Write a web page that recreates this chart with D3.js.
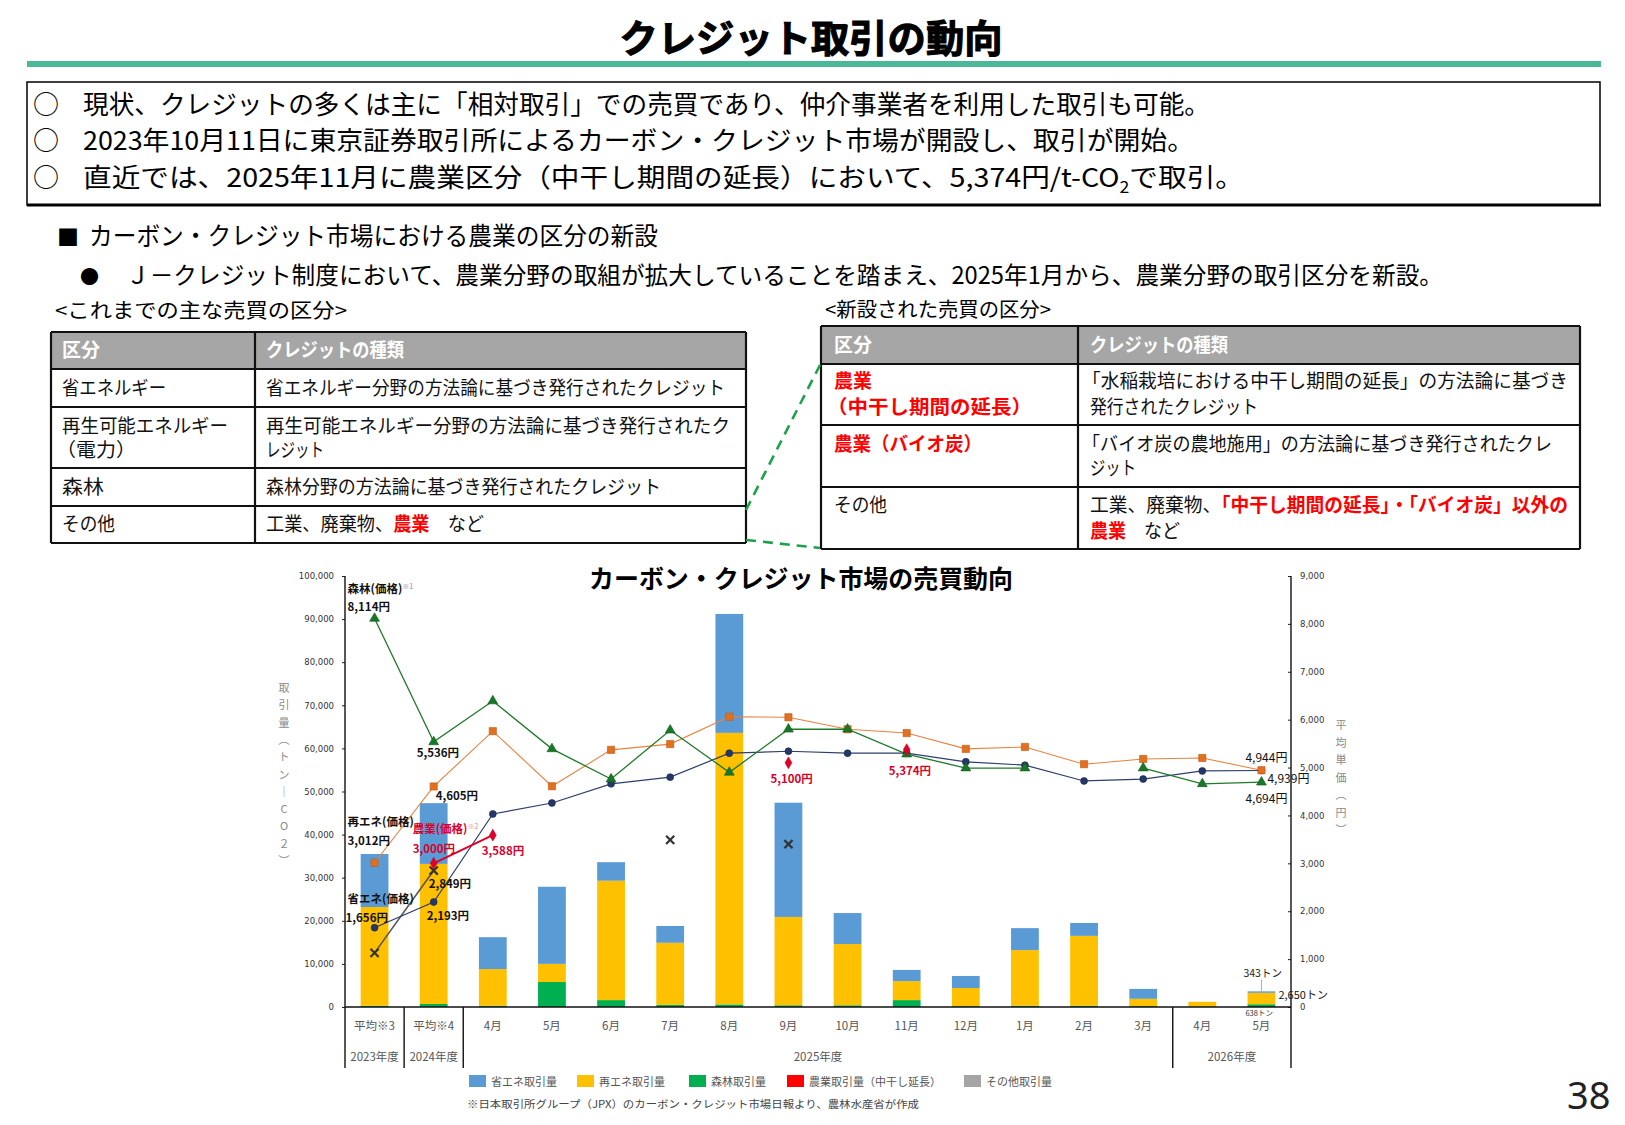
<!DOCTYPE html>
<html>
<head>
<meta charset="utf-8">
<style>
body { margin: 0; background: #fff; }
svg { display: block; font-family: "Noto Sans CJK JP", "Noto Sans", sans-serif; }
.tick text { font-family: "DejaVu Sans", sans-serif; font-size: 8.5px; fill: #333; }
.tick line { stroke: #222; }
</style>
</head>
<body>
<script src="https://d3js.org/d3.v7.min.js"></script>
<script>
// ---- chart data ----
var categories = ["平均※3", "平均※4", "4月", "5月", "6月", "7月", "8月", "9月", "10月", "11月", "12月", "1月", "2月", "3月", "4月", "5月"];
var fiscalYears = ["2023年度", "2024年度", "2025年度", "2026年度"];
var fiscalStart = [0, 1, 2, 14];
var fiscalEnd = [0, 1, 13, 15];

// 取引量 (t-CO2)
var volShoene  = [12300, 14100, 7400, 17900, 4300, 3900, 27600, 26500, 7200, 2600, 2800, 5100, 3000, 2300, 0, 343];
var volSaiene  = [22900, 32500, 8500, 4200, 27700, 14400, 63000, 20500, 14200, 4400, 4200, 12900, 16200, 1700, 1100, 2650];
var volShinrin = [300, 700, 300, 5800, 1600, 500, 600, 400, 400, 1600, 200, 300, 300, 200, 100, 638];
var volNougyou = [0, 0, 0, 0, 0, 0, 0, 0, 0, 0, 0, 0, 0, 0, 0, 0];
var volSonota  = [0, 0, 0, 0, 0, 0, 0, 0, 0, 0, 0, 0, 0, 0, 0, 0];

// 平均単価 (円)
var priceSaiene  = [3012, 4605, 5760, 4610, 5370, 5490, 6060, 6050, 5800, 5720, 5390, 5430, 5070, 5180, 5200, 4944];
var priceShinrin = [8114, 5536, 6390, 5390, 4760, 5780, 4900, 5800, 5800, 5280, 4990, 4990, null, 4990, 4660, 4694];
var priceShoene  = [1656, 2193, 4030, 4260, 4660, 4800, 5300, 5340, 5300, 5300, 5120, 5050, 4720, 4760, 4930, 4939];
var priceNougyou = [null, 3000, 3588, null, null, null, null, 5100, null, 5374, null, null, null, null, null, null];
var priceSonota  = [1130, 2849, null, null, null, 3490, null, 3400, null, null, null, null, null, null, null, null];

var leftTicks = [0, 10000, 20000, 30000, 40000, 50000, 60000, 70000, 80000, 90000, 100000];
var rightTicks = [0, 1000, 2000, 3000, 4000, 5000, 6000, 7000, 8000, 9000];
var legendNames = ["省エネ取引量", "再エネ取引量", "森林取引量", "農業取引量（中干し延長）", "その他取引量"];

var W = 1625, H = 1125;
var svg = d3.select("body").append("svg").attr("width", W).attr("height", H);
svg.append("rect").attr("width", W).attr("height", H).attr("fill", "#fff");

// text helper: {...} parts are red bold
function addText(parent, x, y, markup, o) {
	o = o || {};
	var t = parent.append("text").attr("x", x).attr("y", y)
		.style("font-size", (o.size || 19) + "px")
		.attr("fill", o.fill || "#111");
	if (o.weight) t.style("font-weight", o.weight);
	if (o.anchor) t.attr("text-anchor", o.anchor);
	markup.split(/[{}]/).forEach(function(s, i) {
		if (!s) return;
		var ts = t.append("tspan").text(s);
		if (i % 2) ts.attr("fill", o.red || "#ff0000").style("font-weight", 700);
	});
	if (o.width) t.attr("textLength", o.width).attr("lengthAdjust", "spacingAndGlyphs");
	return t;
}

// ---- header ----
addText(svg, 811, 52, "クレジット取引の動向", {size: 38, weight: 700, anchor: "middle", width: 383, fill: "#000"})
	.attr("stroke", "#000").attr("stroke-width", 1.1);
svg.append("rect").attr("x", 27).attr("y", 61).attr("width", 1574).attr("height", 6).attr("fill", "#4cb89a");

svg.append("rect").attr("x", 27).attr("y", 82).attr("width", 1573).attr("height", 123)
	.attr("fill", "none").attr("stroke", "#000").attr("stroke-width", 1.5);
svg.append("line").attr("x1", 27).attr("x2", 1601).attr("y1", 205).attr("y2", 205)
	.attr("stroke", "#000").attr("stroke-width", 3);

var topY = [114, 150, 187];
topY.forEach(function(y) { addText(svg, 33, y, "○", {size: 26, fill: "#000"}); });
addText(svg, 83, topY[0], "現状、クレジットの多くは主に「相対取引」での売買であり、仲介事業者を利用した取引も可能。", {size: 26, width: 1127, fill: "#000"});
addText(svg, 83, topY[1], "2023年10月11日に東京証券取引所によるカーボン・クレジット市場が開設し、取引が開始。", {size: 26, width: 1111, fill: "#000"});
var l3 = svg.append("text").attr("x", 83).attr("y", topY[2]).style("font-size", "26px").attr("fill", "#000")
	.attr("textLength", 1161).attr("lengthAdjust", "spacingAndGlyphs");
l3.append("tspan").text("直近では、2025年11月に農業区分（中干し期間の延長）において、5,374円/t-CO");
l3.append("tspan").attr("dy", 6).style("font-size", "16px").text("2");
l3.append("tspan").attr("dy", -6).text("で取引。");

addText(svg, 57, 245, "■", {size: 22, fill: "#000"});
addText(svg, 89, 245, "カーボン・クレジット市場における農業の区分の新設", {size: 25, width: 569, fill: "#000"});
addText(svg, 80, 284, "●", {size: 19, fill: "#000"});
addText(svg, 126, 284, "Ｊ－クレジット制度において、農業分野の取組が拡大していることを踏まえ、2025年1月から、農業分野の取引区分を新設。", {size: 24, width: 1317, fill: "#000"});

// ---- tables ----
addText(svg, 55, 318, "<これまでの主な売買の区分>", {size: 20, width: 292, fill: "#000"});
addText(svg, 825, 317, "<新設された売買の区分>", {size: 20, width: 226, fill: "#000"});

function drawTable(x0, x1, x2, ys) {
	var g = svg.append("g");
	g.append("rect").attr("x", x0).attr("y", ys[0]).attr("width", x2 - x0).attr("height", ys[1] - ys[0]).attr("fill", "#a6a6a6");
	ys.forEach(function(y) {
		g.append("line").attr("x1", x0).attr("x2", x2).attr("y1", y).attr("y2", y).attr("stroke", "#111").attr("stroke-width", 2.2);
	});
	[x0, x1, x2].forEach(function(x) {
		g.append("line").attr("x1", x).attr("x2", x).attr("y1", ys[0]).attr("y2", ys[ys.length - 1]).attr("stroke", "#111").attr("stroke-width", 2.2);
	});
	return g;
}
var lt = drawTable(51, 255, 746, [332, 369, 407, 468, 506, 543]);
addText(lt, 62, 357, "区分", {size: 19, weight: 700, fill: "#fff"});
addText(lt, 266, 357, "クレジットの種類", {size: 19, weight: 700, fill: "#fff", width: 138});
addText(lt, 62, 395, "省エネルギー", {width: 104});
addText(lt, 266, 395, "省エネルギー分野の方法論に基づき発行されたクレジット", {width: 459});
addText(lt, 62, 433, "再生可能エネルギー", {width: 166});
addText(lt, 56, 457, "（電力）", {width: 80});
addText(lt, 266, 433, "再生可能エネルギー分野の方法論に基づき発行されたク", {width: 464});
addText(lt, 266, 457, "レジット", {width: 58});
addText(lt, 62, 494, "森林", {width: 42});
addText(lt, 266, 494, "森林分野の方法論に基づき発行されたクレジット", {width: 395});
addText(lt, 62, 531, "その他", {width: 53});
addText(lt, 266, 531, "工業、廃棄物、{農業}　など", {width: 218});

var rt = drawTable(821, 1078, 1580, [326, 364, 425, 487, 549]);
addText(rt, 834, 352, "区分", {size: 19, weight: 700, fill: "#fff"});
addText(rt, 1090, 352, "クレジットの種類", {size: 19, weight: 700, fill: "#fff", width: 138});
addText(rt, 834, 388, "{農業}", {});
addText(rt, 827, 414, "{（中干し期間の延長）}", {width: 205});
addText(rt, 1082, 388, "「水稲栽培における中干し期間の延長」の方法論に基づき", {width: 486});
addText(rt, 1090, 414, "発行されたクレジット", {width: 168});
addText(rt, 834, 451, "{農業（バイオ炭）}", {width: 148});
addText(rt, 1082, 451, "「バイオ炭の農地施用」の方法論に基づき発行されたクレ", {width: 470});
addText(rt, 1090, 475, "ジット", {width: 46});
addText(rt, 834, 512, "その他", {width: 53});
addText(rt, 1090, 512, "工業、廃棄物、{「中干し期間の延長」・「バイオ炭」以外の}", {width: 478});
addText(rt, 1090, 538, "{農業}　など", {width: 90});

// dashed connectors
[[746, 510, 820, 365], [746, 540, 820, 548]].forEach(function(c) {
	svg.append("line").attr("x1", c[0]).attr("y1", c[1]).attr("x2", c[2]).attr("y2", c[3])
		.attr("stroke", "#1fa04a").attr("stroke-width", 2.6).attr("stroke-dasharray", "10,7");
});

// ---- chart ----
var x = d3.scaleBand().domain(d3.range(categories.length)).range([345, 1291])
	.paddingInner(0.53).paddingOuter(0.265);
var xc = function(i) { return x(i) + x.bandwidth() / 2; };
var yL = d3.scaleLinear().domain([0, 100000]).range([1007, 576]);
var yR = d3.scaleLinear().domain([0, 9000]).range([1007, 576]);
var axisBottomY = 1068;

var chart = svg.append("g");
addText(chart, 801, 588, "カーボン・クレジット市場の売買動向", {size: 25, weight: 700, anchor: "middle", width: 424, fill: "#000"});

// axes
var gl = chart.append("g").attr("transform", "translate(345,0)")
	.call(d3.axisLeft(yL).tickValues(leftTicks).tickFormat(d3.format(",")).tickSize(3).tickPadding(8));
gl.select(".domain").remove();
var gr = chart.append("g").attr("transform", "translate(1291,0)")
	.call(d3.axisRight(yR).tickValues(rightTicks).tickFormat(d3.format(",")).tickSize(-3).tickPadding(9));
gr.select(".domain").remove();
[345, 1291].forEach(function(xx) {
	chart.append("line").attr("x1", xx).attr("x2", xx).attr("y1", yL(100000)).attr("y2", axisBottomY)
		.attr("stroke", "#111").attr("stroke-width", 1.4);
});

// vertical axis titles
var leftTitle = ["取", "引", "量", "︵", "ト", "ン", "｜", "C", "O", "２", "︶"];
chart.selectAll(".ltitle").data(leftTitle).enter().append("text")
	.attr("x", 284).attr("y", function(d, i) { return 692 + i * 17.3; })
	.attr("text-anchor", "middle").style("font-size", "11px").attr("fill", "#8a8a8a").text(function(d) { return d; });
var rightTitle = ["平", "均", "単", "価", "︵", "円", "︶"];
chart.selectAll(".rtitle").data(rightTitle).enter().append("text")
	.attr("x", 1341).attr("y", function(d, i) { return 729 + i * 17.5; })
	.attr("text-anchor", "middle").style("font-size", "11px").attr("fill", "#8a8a8a").text(function(d) { return d; });

// stacked bars
var keys = ["shinrin", "nougyou", "sonota", "saiene", "shoene"];
var colors = {shoene: "#5b9bd5", saiene: "#ffc000", shinrin: "#00b050", nougyou: "#ff0000", sonota: "#a5a5a5"};
var rows = categories.map(function(c, i) {
	return {i: i, shinrin: volShinrin[i], nougyou: volNougyou[i], sonota: volSonota[i], saiene: volSaiene[i], shoene: volShoene[i]};
});
var series = d3.stack().keys(keys)(rows);
chart.append("g").selectAll("g").data(series).enter().append("g")
	.attr("fill", function(s) { return colors[s.key]; })
	.selectAll("rect").data(function(s) { return s; }).enter().append("rect")
	.attr("x", function(d) { return x(d.data.i); })
	.attr("width", x.bandwidth())
	.attr("y", function(d) { return yL(d[1]); })
	.attr("height", function(d) { return yL(d[0]) - yL(d[1]); });

// x axis and category labels
chart.append("line").attr("x1", 345).attr("x2", 1291).attr("y1", yL(0)).attr("y2", yL(0))
	.attr("stroke", "#111").attr("stroke-width", 1.4);
[1, 2, 14].forEach(function(i) {
	var bx = x(i) - x.step() * x.paddingInner() / 2;
	chart.append("line").attr("x1", bx).attr("x2", bx).attr("y1", yL(0)).attr("y2", axisBottomY)
		.attr("stroke", "#111").attr("stroke-width", 1.4);
});
chart.selectAll(".cat").data(categories).enter().append("text")
	.attr("x", function(d, i) { return xc(i); }).attr("y", 1030)
	.attr("text-anchor", "middle").style("font-size", "11.5px").attr("fill", "#555")
	.text(function(d) { return d; });
chart.selectAll(".fy").data(fiscalYears).enter().append("text")
	.attr("x", function(d, i) { return (xc(fiscalStart[i]) + xc(fiscalEnd[i])) / 2; }).attr("y", 1061)
	.attr("text-anchor", "middle").style("font-size", "11.5px").attr("fill", "#555")
	.text(function(d) { return d; });

// price lines
var priceSeries = [
	{vals: priceSonota,  color: "#555", width: 1.6, sym: d3.symbolTimes, size: 45, fill: "none", stroke: "#333", sw: 2.2},
	{vals: priceShoene,  color: "#2f3f6b", width: 1.2, sym: d3.symbolCircle, size: 38, fill: "#253766", stroke: "#1b2a50", sw: 0.6},
	{vals: priceSaiene,  color: "#e8823e", width: 1.1, sym: d3.symbolSquare, size: 52, fill: "#e2701f", stroke: "#b85a14", sw: 0.6},
	{vals: priceShinrin, color: "#1f7a2a", width: 1.3, sym: d3.symbolTriangle, size: 42, fill: "#18782a", stroke: "#0f5a1c", sw: 0.6},
	{vals: priceNougyou, color: "#e0002a", width: 2, sym: d3.symbolDiamond, size: 40, fill: "#e0002a", stroke: "#c00020", sw: 0.6}
];
var line = d3.line().defined(function(d) { return d != null; })
	.x(function(d, i) { return xc(i); }).y(function(d) { return yR(d); });
priceSeries.forEach(function(s) {
	chart.append("path").attr("d", line(s.vals)).attr("fill", "none")
		.attr("stroke", s.color).attr("stroke-width", s.width);
});
priceSeries.forEach(function(s) {
	chart.append("g").selectAll("path").data(s.vals.map(function(v, i) { return {v: v, i: i}; })
		.filter(function(d) { return d.v != null; }))
		.enter().append("path")
		.attr("transform", function(d) { return "translate(" + xc(d.i) + "," + yR(d.v) + ")"; })
		.attr("d", d3.symbol(s.sym, s.size))
		.attr("fill", s.fill).attr("stroke", s.stroke).attr("stroke-width", s.sw);
});

// data labels (offset from their points)
var red = "#d9002a";
var labels = [
	{vals: priceShinrin, i: 0, dx: -27, dy: -25, t: "森林(価格)", note: "※1"},
	{vals: priceShinrin, i: 0, dx: -27, dy: -7, t: "8,114円"},
	{vals: priceShinrin, i: 1, dx: -17, dy: 15, t: "5,536円"},
	{vals: priceSaiene, i: 1, dx: 2, dy: 14, t: "4,605円"},
	{vals: priceSaiene, i: 0, dx: -27, dy: -37, t: "再エネ(価格)"},
	{vals: priceSaiene, i: 0, dx: -27, dy: -18, t: "3,012円"},
	{vals: priceNougyou, i: 1, dx: -21, dy: -30, t: "農業(価格)", note: "※2", fill: red},
	{vals: priceNougyou, i: 1, dx: -21, dy: -10, t: "3,000円", fill: red},
	{vals: priceNougyou, i: 2, dx: -11, dy: 20, t: "3,588円", fill: red},
	{vals: priceSonota, i: 1, dx: -5, dy: 17, t: "2,849円"},
	{vals: priceShoene, i: 0, dx: -27, dy: -25, t: "省エネ(価格)"},
	{vals: priceShoene, i: 0, dx: -29, dy: -6, t: "1,656円"},
	{vals: priceShoene, i: 1, dx: -7, dy: 18, t: "2,193円"},
	{vals: priceNougyou, i: 7, dx: -18, dy: 20, t: "5,100円", fill: red},
	{vals: priceNougyou, i: 9, dx: -18, dy: 25, t: "5,374円", fill: red},
	{vals: priceSaiene, i: 15, dx: -16, dy: -8, t: "4,944円", plain: true},
	{vals: priceShoene, i: 15, dx: 6, dy: 13, t: "4,939円", plain: true},
	{vals: priceShinrin, i: 15, dx: -16, dy: 21, t: "4,694円", plain: true}
];
labels.forEach(function(l) {
	var t = chart.append("text")
		.attr("x", xc(l.i) + l.dx).attr("y", yR(l.vals[l.i]) + l.dy)
		.style("font-size", l.plain ? "12px" : "11.5px")
		.style("font-weight", l.plain ? 400 : 700)
		.attr("fill", l.fill || "#111");
	t.append("tspan").text(l.t);
	if (l.note) t.append("tspan").attr("dy", -4).style("font-size", "7px").style("font-weight", 400)
		.attr("fill", l.fill ? "#e88" : "#888").text(l.note);
});

// last-bar volume labels
var last = categories.length - 1;
var lastTop = volShinrin[last] + volSaiene[last] + volShoene[last];
chart.append("line").attr("x1", xc(last)).attr("x2", xc(last)).attr("y1", yL(lastTop) - 12).attr("y2", yL(lastTop))
	.attr("stroke", "#999").attr("stroke-width", 0.8);
chart.append("text").attr("x", xc(last) - 18).attr("y", yL(lastTop) - 14)
	.style("font-size", "10.5px").attr("fill", "#222").text(d3.format(",")(volShoene[last]) + "トン");
chart.append("text").attr("x", xc(last) + 17).attr("y", yL(lastTop) + 8)
	.style("font-size", "11px").attr("fill", "#111").text(d3.format(",")(volSaiene[last]) + "トン");
chart.append("text").attr("x", xc(last) - 16).attr("y", yL(0) + 9)
	.style("font-size", "7.5px").attr("fill", "#333").text(d3.format(",")(volShinrin[last]) + "トン");

// legend
var legendX = [469, 577, 689, 787, 964];
var legendColors = [colors.shoene, colors.saiene, colors.shinrin, colors.nougyou, colors.sonota];
var lg = chart.append("g").selectAll("g").data(legendNames).enter().append("g")
	.attr("transform", function(d, i) { return "translate(" + legendX[i] + ",1075)"; });
lg.append("rect").attr("width", 17).attr("height", 12).attr("fill", function(d, i) { return legendColors[i]; });
lg.append("text").attr("x", 22).attr("y", 10.5).style("font-size", "11px").attr("fill", "#555")
	.text(function(d) { return d; });

chart.append("text").attr("x", 467).attr("y", 1108).style("font-size", "10.5px").attr("fill", "#444")
	.attr("textLength", 452).attr("lengthAdjust", "spacingAndGlyphs")
	.text("※日本取引所グループ（JPX）のカーボン・クレジット市場日報より、農林水産省が作成");

svg.append("text").attr("x", 1567).attr("y", 1109).style("font-family", "'Noto Sans', sans-serif")
	.style("font-size", "38px").attr("fill", "#222").text("38");
</script>
